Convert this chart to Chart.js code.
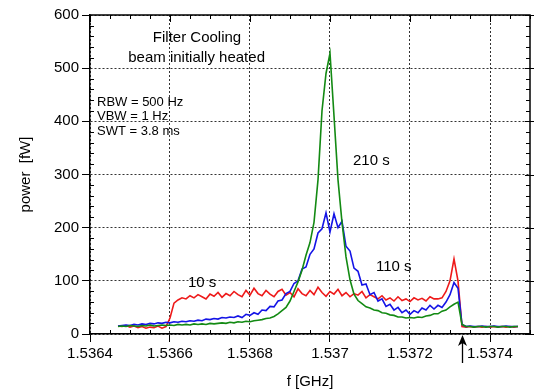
<!DOCTYPE html>
<html>
<head>
<meta charset="utf-8">
<script src="https://cdn.jsdelivr.net/npm/chart.js@4"></script>
<style>
html, body { margin: 0; padding: 0; background: #fff; }
#wrap { width: 535px; height: 391px; position: relative; }
</style>
</head>
<body>
<div id="wrap"><canvas id="myChart"></canvas></div>
<script>
// frequency samples [GHz]
var freq = [
  1.53647, 1.53648, 1.53649, 1.5365, 1.53651, 1.53652, 1.53653, 1.53654, 1.53655, 1.53656,
  1.53657, 1.53658, 1.53659, 1.5366, 1.53661, 1.53662, 1.53663, 1.53664, 1.53665, 1.53666,
  1.53667, 1.53668, 1.53669, 1.5367, 1.53671, 1.53672, 1.53673, 1.53674, 1.53675, 1.53676,
  1.53677, 1.53678, 1.53679, 1.5368, 1.53681, 1.53682, 1.53683, 1.53684, 1.53685, 1.53686,
  1.53687, 1.53688, 1.53689, 1.5369, 1.53691, 1.53692, 1.53693, 1.53694, 1.53695, 1.53696,
  1.53697, 1.53698, 1.53699, 1.537, 1.53701, 1.53702, 1.53703, 1.53704, 1.53705, 1.53706,
  1.53707, 1.53708, 1.53709, 1.5371, 1.53711, 1.53712, 1.53713, 1.53714, 1.53715, 1.53716,
  1.53717, 1.53718, 1.53719, 1.5372, 1.53721, 1.53722, 1.53723, 1.53724, 1.53725, 1.53726,
  1.53727, 1.53728, 1.53729, 1.5373, 1.53731, 1.53732, 1.53733, 1.53734, 1.53735, 1.53736,
  1.53737, 1.53738, 1.53739, 1.5374, 1.53741, 1.53742, 1.53743, 1.53744, 1.53745, 1.53746,
  1.53747
];

// power [fW] after 10 s, 110 s, 210 s
var power10s = [
  15, 14, 16, 13, 15, 12, 14, 11, 13, 12,
  15, 11, 14, 30, 58, 64, 68, 66, 72, 68,
  74, 70, 66, 75, 71, 78, 69, 76, 72, 80,
  74, 70, 82, 73, 86, 76, 72, 82, 75, 70,
  80, 84, 73, 78, 70, 85, 76, 72, 82, 74,
  88, 78, 71, 80, 75, 84, 72, 78, 70, 76,
  73, 80, 68, 74, 70, 66, 72, 64, 68, 62,
  70, 63, 66, 61, 68, 64, 67, 62, 70, 66,
  66, 68, 80, 100, 141, 100, 14, 13, 14, 13,
  14, 13, 14, 13, 14, 13, 14, 13, 14, 13,
  14
];
var power110s = [
  15, 16, 17, 16, 18, 17, 19, 18, 20, 19,
  21, 20, 22, 21, 23, 22, 24, 23, 25, 24,
  26, 25, 28, 27, 29, 28, 31, 30, 32, 31,
  34, 31, 37, 35, 40, 37, 45, 44, 52, 51,
  62, 64, 76, 80, 95, 100, 122, 126, 150, 160,
  190, 198, 228, 192, 226, 200, 212, 165, 156, 124,
  118, 92, 94, 74, 78, 62, 66, 52, 56, 45,
  50, 40, 45, 37, 44, 40, 49, 45, 54, 47,
  54, 50, 60, 74, 97, 86, 18, 14, 15, 14,
  14, 15, 14, 14, 15, 14, 14, 15, 14, 14,
  14
];
var power210s = [
  14, 15, 14, 16, 15, 14, 16, 15, 17, 15,
  16, 17, 16, 17, 16, 18, 17, 18, 17, 19,
  18, 19, 18, 20, 19, 20, 21, 20, 22, 21,
  23, 22, 24, 23, 25, 26, 27, 29, 30, 33,
  38, 44, 50, 62, 80, 98, 120, 148, 172, 210,
  290, 420, 490, 528, 410, 290, 210, 145, 102, 75,
  63, 57, 51, 49, 45, 44, 40, 39, 36, 35,
  32, 32, 30, 31, 30, 32, 31, 34, 35, 38,
  38, 43, 45, 51, 56, 60, 18, 14, 14, 13,
  14, 14, 13, 14, 14, 13, 14, 14, 13, 14,
  14
];

var xTicks = [1.5364, 1.5366, 1.5368, 1.537, 1.5372, 1.5374];
var yTicks = [0, 100, 200, 300, 400, 500, 600];

// text placed in data coordinates
var notes = [
  { text: 'Filter Cooling', x: 1.5366675, y: 549, align: 'center', size: 15 },
  { text: 'beam initially heated', x: 1.5366665, y: 511, align: 'center', size: 15 },
  { text: 'RBW = 500 Hz', x: 1.5364175, y: 428, align: 'left', size: 13 },
  { text: 'VBW = 1 Hz', x: 1.5364175, y: 402, align: 'left', size: 13 },
  { text: 'SWT = 3.8 ms', x: 1.5364175, y: 374, align: 'left', size: 13 },
  { text: '210 s', x: 1.5370575, y: 317, align: 'left', size: 15 },
  { text: '110 s', x: 1.537115, y: 119, align: 'left', size: 15 },
  { text: '10 s', x: 1.536645, y: 89, align: 'left', size: 15 }
];
var arrowAt = 1.53733;

var FONT = '"Liberation Sans", Arial, sans-serif';
Chart.defaults.font.family = FONT;
Chart.defaults.color = '#000';

function series(vals) {
  return freq.map(function (f, i) { return { x: f, y: vals[i] }; });
}

var decor = {
  id: 'decor',
  afterDraw: function (chart) {
    var ctx = chart.ctx, a = chart.chartArea;
    var xs = chart.scales.x, ys = chart.scales.y;
    ctx.save();
    ctx.strokeStyle = '#000';
    ctx.fillStyle = '#000';
    ctx.lineWidth = 1.5;
    ctx.beginPath();
    ctx.moveTo(a.left, a.top);
    ctx.lineTo(a.right, a.top);
    ctx.lineTo(a.right, a.bottom);
    ctx.stroke();

    // minor ticks
    ctx.lineWidth = 1;
    ctx.beginPath();
    for (var k = 0; k <= 22; k++) {
      var px = Math.round(xs.getPixelForValue(1.5364 + k * 0.00005)) + 0.5;
      var major = k % 4 === 0;
      if (!major) {
        ctx.moveTo(px, a.bottom); ctx.lineTo(px, a.bottom - 4);
      }
      ctx.moveTo(px, a.top); ctx.lineTo(px, a.top + (major ? 7 : 4));
    }
    for (var j = 0; j <= 30; j++) {
      var py = Math.round(ys.getPixelForValue(j * 20)) + 0.5;
      var maj = j % 5 === 0;
      if (!maj) {
        ctx.moveTo(a.left, py); ctx.lineTo(a.left + 4, py);
        ctx.moveTo(a.right, py); ctx.lineTo(a.right - 4, py);
      } else {
        ctx.moveTo(a.right + 4, py); ctx.lineTo(a.right - 5, py);
      }
    }
    ctx.stroke();

    // annotations
    notes.forEach(function (n) {
      ctx.font = n.size + 'px ' + FONT;
      ctx.textAlign = n.align;
      ctx.textBaseline = 'alphabetic';
      ctx.fillText(n.text, xs.getPixelForValue(n.x), ys.getPixelForValue(n.y));
    });

    // marker arrow under the axis
    var ax = Math.round(xs.getPixelForValue(arrowAt)) + 0.5;
    var ay = a.bottom + 1;
    ctx.lineWidth = 1.3;
    ctx.beginPath();
    ctx.moveTo(ax, ay + 8);
    ctx.lineTo(ax, ay + 28);
    ctx.stroke();
    ctx.beginPath();
    ctx.moveTo(ax, ay);
    ctx.lineTo(ax - 4.5, ay + 11);
    ctx.lineTo(ax, ay + 8);
    ctx.lineTo(ax + 4.5, ay + 11);
    ctx.closePath();
    ctx.fill();
    ctx.restore();
  }
};

var ctx = document.getElementById('myChart');
var myChart = new Chart(ctx, {
  type: 'line',
  data: {
    datasets: [
      { label: '210 s', data: series(power210s), borderColor: '#138a13', borderWidth: 1.6 },
      { label: '110 s', data: series(power110s), borderColor: '#1414e6', borderWidth: 1.6 },
      { label: '10 s', data: series(power10s), borderColor: '#ee1a1a', borderWidth: 1.6 }
    ]
  },
  options: {
    responsive: true,
    maintainAspectRatio: false,
    animation: false,
    elements: { point: { radius: 0 }, line: { tension: 0, fill: false } },
    layout: { padding: { top: 15, right: 5, left: 0, bottom: 0 } },
    plugins: { legend: { display: false }, tooltip: { enabled: false } },
    scales: {
      x: {
        type: 'linear',
        min: 1.5364,
        max: 1.5375,
        afterBuildTicks: function (s) { s.ticks = xTicks.map(function (v) { return { value: v }; }); },
        afterFit: function (s) { s.height = 57; },
        ticks: {
          font: { size: 15 },
          color: '#000',
          padding: 3,
          maxRotation: 0,
          autoSkip: false,
          callback: function (v) { return String(+v.toFixed(4)); }
        },
        grid: { color: '#333', lineWidth: 1, tickLength: 8, tickColor: '#000', tickWidth: 1 },
        border: { display: true, color: '#000', width: 1.5, dash: [2, 2] },
        title: { display: true, text: 'f [GHz]', font: { size: 15 }, color: '#000', padding: { top: 0, bottom: 0 } }
      },
      y: {
        type: 'linear',
        min: 0,
        max: 600,
        afterBuildTicks: function (s) { s.ticks = yTicks.map(function (v) { return { value: v }; }); },
        afterFit: function (s) { s.width = 90; },
        ticks: { font: { size: 15 }, color: '#000', padding: 3 },
        grid: { color: '#333', lineWidth: 1, tickLength: 8, tickColor: '#000', tickWidth: 1 },
        border: { display: true, color: '#000', width: 1.5, dash: [2, 2] },
        title: { display: true, text: 'power  [fW]', font: { size: 15 }, color: '#000', padding: { top: 17, bottom: 0 } }
      }
    }
  },
  plugins: [decor]
});
</script>
</body>
</html>
